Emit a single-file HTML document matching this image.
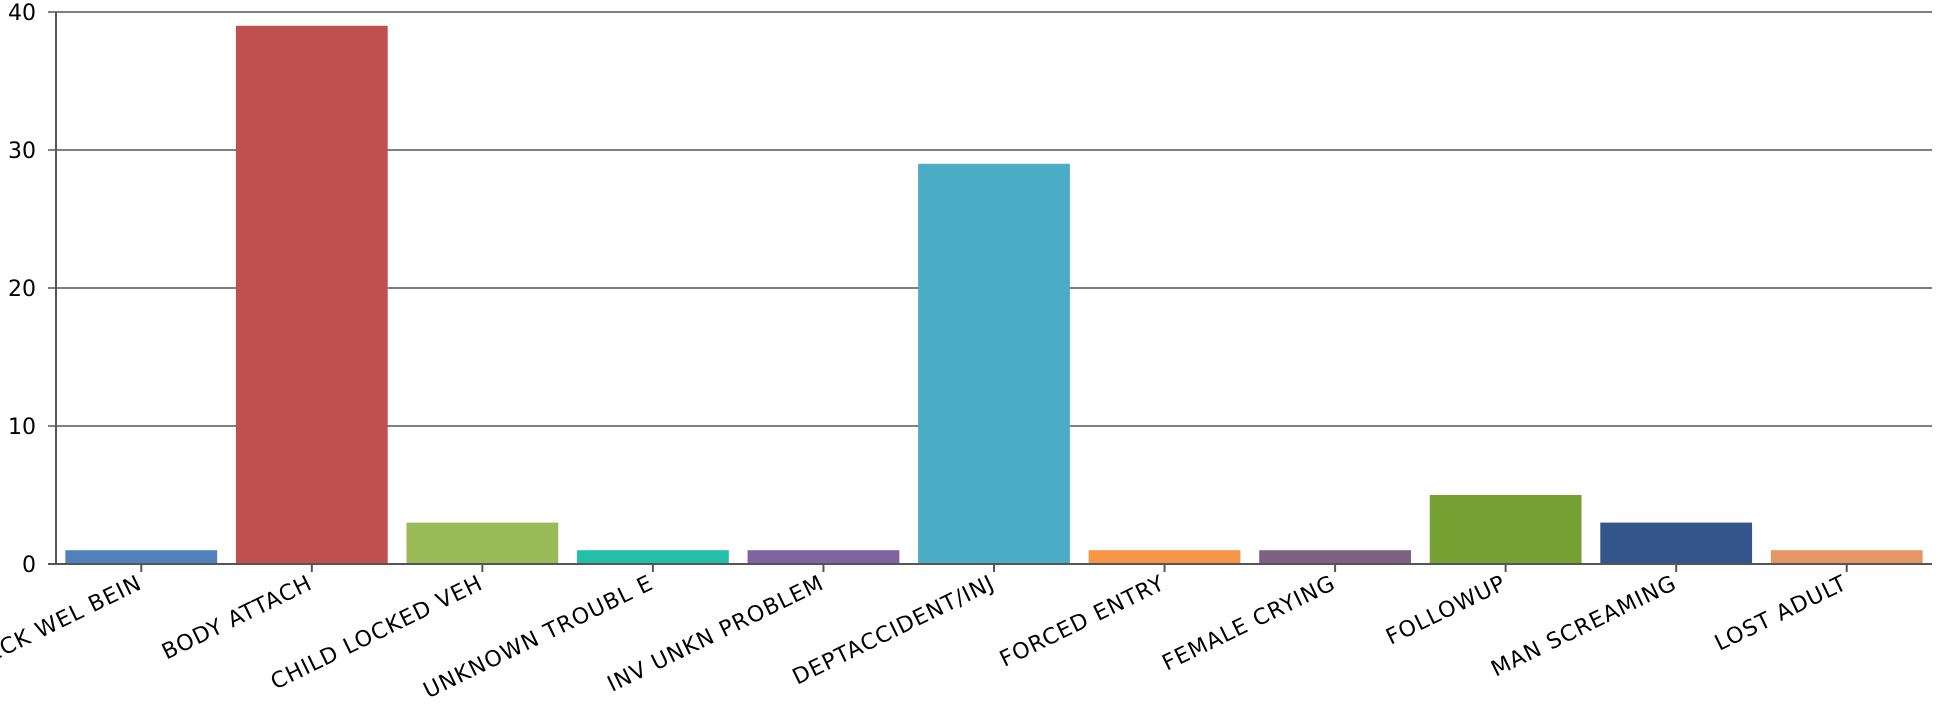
<!DOCTYPE html>
<html><head><meta charset="utf-8"><style>
html,body{margin:0;padding:0;background:#fff;width:1942px;height:710px;overflow:hidden}
svg text{font-family:"DejaVu Sans","Liberation Sans",sans-serif;fill:#000}
</style></head><body>
<svg id="chart" width="1942" height="710" xmlns="http://www.w3.org/2000/svg"></svg>
<script>
const categories=["CHECK WEL BEIN","BODY ATTACH","CHILD LOCKED VEH","UNKNOWN TROUBL E","INV UNKN PROBLEM","DEPTACCIDENT/INJ","FORCED ENTRY","FEMALE CRYING","FOLLOWUP","MAN SCREAMING","LOST ADULT"];
const values=[1,39,3,1,1,29,1,1,5,3,1];
const yTicks=[0,10,20,30,40];
const colors=["#4f81bd","#c0504d","#9bbb59","#23bfaa","#8064a2","#4bacc6","#f79646","#7f6084","#77a033","#33558b","#e59566"];
const NS="http://www.w3.org/2000/svg";
const svg=document.getElementById('chart');
const L=56,R=1932,T=12,B=564,yMax=40;
const step=(R-L)/categories.length, pad=0.11;
const x=i=>L+i*step;
const y=v=>B-(v/yMax)*(B-T);
function mk(t,a){const e=document.createElementNS(NS,t);for(const k in a)e.setAttribute(k,a[k]);svg.appendChild(e);return e;}
yTicks.forEach(t=>{
  const g=mk('line',{x1:L-8,x2:R,y1:y(t),y2:y(t),stroke:'#555','stroke-width':1.5});
  
  
  const tx=mk('text',{x:L-20,y:y(t)+8,'text-anchor':'end','font-size':22});
  tx.textContent=t;
  
  
});
values.forEach((v,i)=>{
  const bw=step*(1-pad);
  const r=mk('rect',{x:x(i)+step*pad/2,y:y(v),width:bw,height:B-y(v),fill:colors[i]});
  
  
});
const ya=mk('line',{x1:L,x2:L,y1:T,y2:B,stroke:'#555','stroke-width':2});


const xa=mk('line',{x1:L-8,x2:R,y1:B,y2:B,stroke:'#555','stroke-width':2});


categories.forEach((c,i)=>{
  const cx=x(i)+step/2;
  const tk=mk('line',{x1:cx,x2:cx,y1:B,y2:B+8,stroke:'#555','stroke-width':2});
  
  
  const tx=mk('text',{x:cx+2,y:B+24,'text-anchor':'end','font-size':22,'letter-spacing':'1',transform:`rotate(-26 ${cx+2} ${B+24})`});
  tx.textContent=c;
  
  
});
</script>
</body></html>
